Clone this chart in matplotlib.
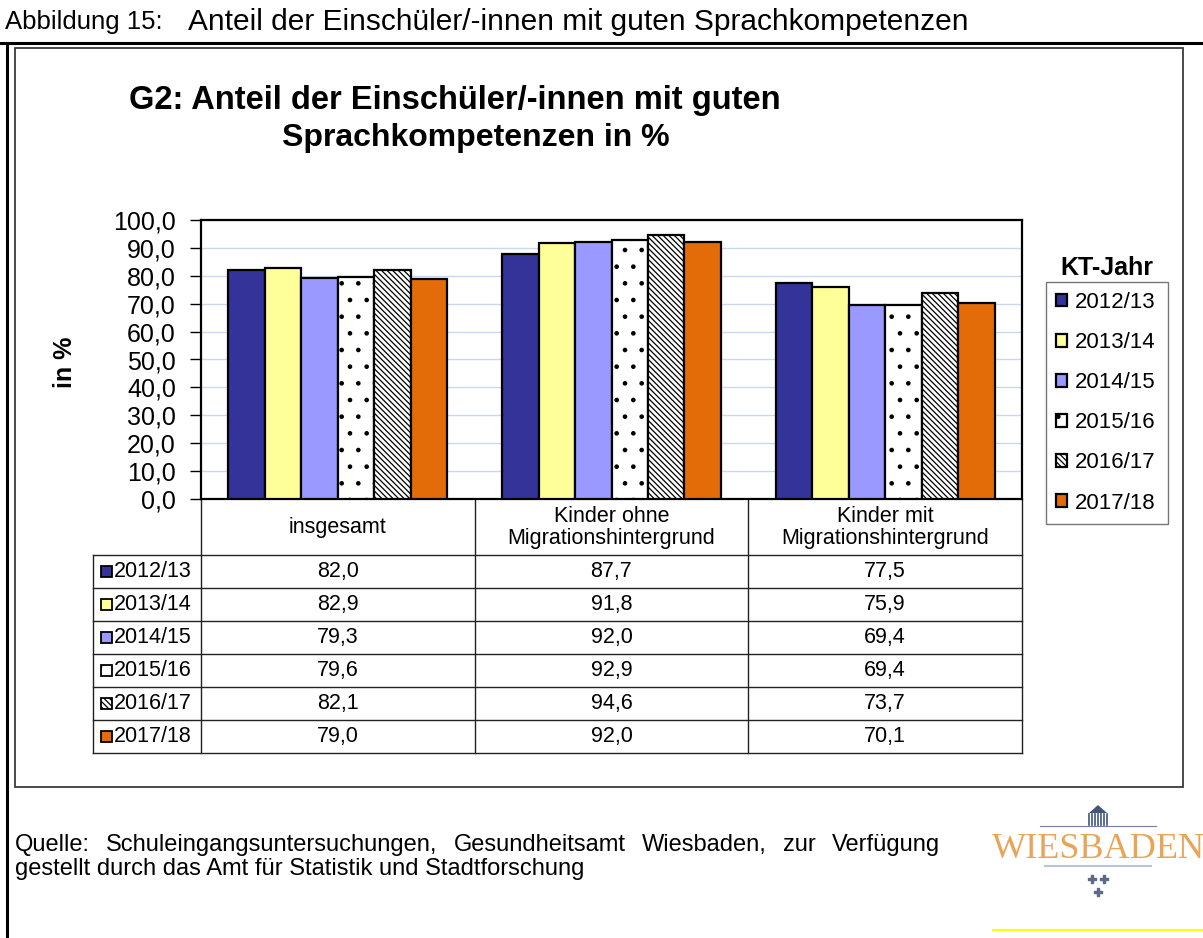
import numpy as np
import matplotlib
matplotlib.use("Agg")
import matplotlib.pyplot as plt
from matplotlib.patches import Rectangle, Polygon

plt.rcParams['font.family'] = ['Liberation Sans', 'DejaVu Sans']
plt.rcParams['hatch.linewidth'] = 0.9

# Schuljahre (KT-Jahr) und Gruppen
years = ['2012/13', '2013/14', '2014/15', '2015/16', '2016/17', '2017/18']
groups = ['insgesamt', 'Kinder ohne\nMigrationshintergrund', 'Kinder mit\nMigrationshintergrund']

# Anteil mit guten Sprachkompetenzen in %, je Gruppe über die Jahre
insgesamt = [82.0, 82.9, 79.3, 79.6, 82.1, 79.0]
ohne_migration = [87.7, 91.8, 92.0, 92.9, 94.6, 92.0]
mit_migration = [77.5, 75.9, 69.4, 69.4, 73.7, 70.1]

yticks = [0, 10, 20, 30, 40, 50, 60, 70, 80, 90, 100]

colors = ['#333399', '#ffff99', '#9999ff', '#ffffff', '#ffffff', '#e36c09']
hatches = [None, None, None, '.', '\\\\\\\\\\\\', None]

W, H = 1203, 938
fig = plt.figure(figsize=(W / 100, H / 100), dpi=100)


def px_axes(x0, y0, x1, y1, **kw):
    return fig.add_axes([x0 / W, 1 - y1 / H, (x1 - x0) / W, (y1 - y0) / H], **kw)


# Hintergrund-Ebene in Pixelkoordinaten: Rahmen, Texte, Logo
bg = px_axes(0, 0, W, H, zorder=0)
bg.set_xlim(0, W)
bg.set_ylim(H, 0)
bg.axis('off')

bg.plot([0, W], [43, 43], color='black', lw=2.2)
bg.plot([7, 7], [43, H], color='black', lw=2.2)
bg.add_patch(Rectangle((15, 48), 1168, 739, fill=False, ec='#3a3a3a', lw=1.3))

bg.text(5, 22, 'Abbildung 15:', fontsize=18.5, va='center', ha='left')
bg.text(188, 22, 'Anteil der Einschüler/-innen mit guten Sprachkompetenzen',
        fontsize=21.5, va='center', ha='left')

bg.text(455, 100, 'G2: Anteil der Einschüler/-innen mit guten', fontsize=23.5,
        fontweight='bold', ha='center', va='center')
bg.text(476, 138, 'Sprachkompetenzen in %', fontsize=23,
        fontweight='bold', ha='center', va='center')

bg.text(65, 362, 'in %', fontsize=18, fontweight='bold', rotation=90,
        ha='center', va='center')

bg.text(1107, 268, 'KT-Jahr', fontsize=18, fontweight='bold', ha='center', va='center')

# Quellenangabe, erste Zeile im Blocksatz
renderer = fig.canvas.get_renderer()
words = 'Quelle: Schuleingangsuntersuchungen, Gesundheitsamt Wiesbaden, zur Verfügung'.split()
objs = [bg.text(0, 845, w, fontsize=17, ha='left', va='center') for w in words]
widths = []
for t in objs:
    bb = t.get_window_extent(renderer)
    widths.append(bb.width)
gap = (940 - 15 - sum(widths)) / (len(words) - 1)
xpos = 15
for t, wd in zip(objs, widths):
    t.set_x(xpos)
    xpos += wd + gap
bg.text(15, 869, 'gestellt durch das Amt für Statistik und Stadtforschung',
        fontsize=17, ha='left', va='center')

# Logo
bg.add_patch(Polygon([[1089, 813], [1098, 805], [1107, 813]], closed=True,
                     fc='#44557a', ec='none'))
for cx in np.arange(1089, 1108, 3):
    bg.plot([cx, cx], [814, 825], color='#44557a', lw=1.2)
bg.plot([1040, 1156], [826, 826], color='#6f7fa0', lw=0.8)
bg.text(1098, 850, 'WIESBADEN', fontsize=26, family='Liberation Serif',
        color='#e9a457', ha='center', va='center')
bg.plot([1045, 1151], [866, 866], color='#b8c4dc', lw=1.5)
bg.scatter([1092, 1104, 1098], [879, 879, 892], marker='P', s=40, color='#5d6a88')
bg.plot([993, W], [930, 930], color='#ffff00', lw=1.5)

# Säulendiagramm
ax = px_axes(201, 220, 1022, 499, zorder=2)
series = np.array([insgesamt, ohne_migration, mit_migration]).T
bw = 0.1333
x = np.arange(len(groups))
for j, year in enumerate(years):
    ax.bar(x + (j - 2.5) * bw, series[j], width=bw, color=colors[j],
           edgecolor='black', linewidth=1.6, hatch=hatches[j], label=year, zorder=3)

ax.set_xlim(-0.5, 2.5)
ax.set_ylim(0, 100)
ax.set_yticks(yticks)
ax.set_yticklabels([f'{v:.1f}'.replace('.', ',') for v in yticks], fontsize=18)
ax.set_xticks([])
ax.tick_params(axis='y', direction='out', length=8, width=1, pad=10)
ax.yaxis.grid(True, color='#c8d8f0', lw=1)
ax.set_axisbelow(True)
for s in ax.spines.values():
    s.set_linewidth(1.6)

ax.legend(loc='upper left', bbox_to_anchor=(1046 / W, 1 - 523 / H, 122 / W, 241 / H),
          bbox_transform=fig.transFigure, mode='expand', fontsize=16, frameon=True,
          fancybox=False, edgecolor='#555555', handlelength=0.5, handleheight=0.5,
          handletextpad=0.35, labelspacing=0.86, borderpad=0.45, borderaxespad=0)

# Datentabelle unter dem Diagramm
tab = px_axes(93, 500, 1022, 753, zorder=1)
unit_x = 273.67
label_w = (201 - 93) / unit_x
head_h = 55 / 33
n_rows = len(years)
tab.set_xlim(-0.5 - label_w, 2.5)
tab.set_ylim(head_h + n_rows, 0)
tab.axis('off')

lc = '#222222'
left = -0.5 - label_w
bottom = head_h + n_rows
for xb in [-0.5, 0.5, 1.5, 2.5]:
    tab.plot([xb, xb], [0, bottom], color=lc, lw=1.0, clip_on=False)
tab.plot([left, left], [head_h, bottom], color=lc, lw=1.0, clip_on=False)
for r in range(n_rows + 1):
    tab.plot([left, 2.5], [head_h + r, head_h + r], color=lc, lw=1.0, clip_on=False)

for i, g in enumerate(groups):
    tab.text(i, head_h / 2, g, fontsize=15.5, ha='center', va='center', linespacing=1.05)

sq_w = 11 / unit_x
sq_h = 11 / 33
for j, year in enumerate(years):
    yc = head_h + j + 0.5
    tab.add_patch(Rectangle((left + 8 / unit_x, yc - sq_h / 2), sq_w, sq_h,
                            fc=colors[j], ec='black', lw=1.3, hatch=hatches[j]))
    tab.text(left + 21 / unit_x, yc, year, fontsize=15.5, ha='left', va='center')
    for i in range(len(groups)):
        tab.text(i, yc, f'{series[j][i]:.1f}'.replace('.', ','), fontsize=15.5,
                 ha='center', va='center')

fig.savefig('out.png', dpi=100)
